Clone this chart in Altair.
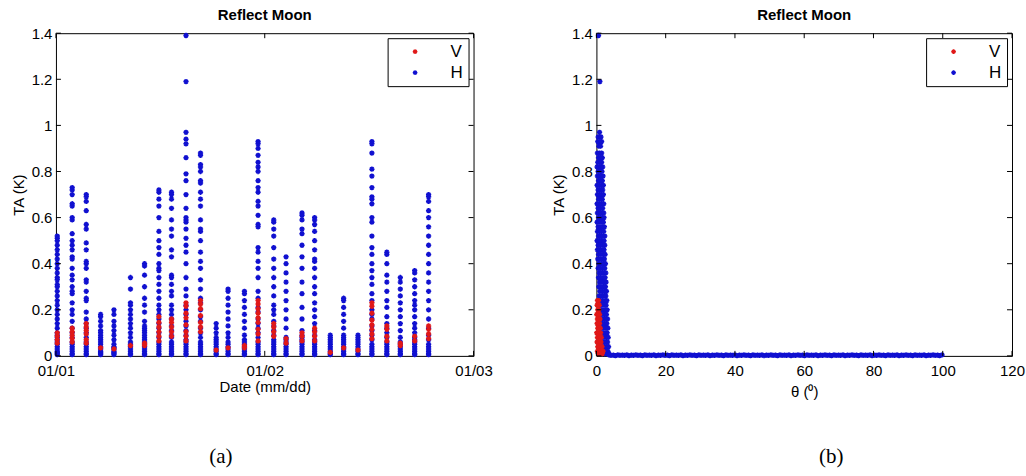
import altair as alt
import pandas as pd

# ---------------------------------------------------------------- data
# start time of each moon-reflection pass (one column of points per pass)
pass_times = [
    "2011-01-01T00:09", "2011-01-01T01:52", "2011-01-01T03:29", "2011-01-01T05:08",
    "2011-01-01T06:40", "2011-01-01T08:34", "2011-01-01T10:11", "2011-01-01T11:50",
    "2011-01-01T13:17", "2011-01-01T14:57", "2011-01-01T16:37", "2011-01-01T18:25",
    "2011-01-01T19:47", "2011-01-01T21:40", "2011-01-01T23:14", "2011-01-02T01:02",
    "2011-01-02T02:27", "2011-01-02T04:17", "2011-01-02T05:44", "2011-01-02T07:32",
    "2011-01-02T09:04", "2011-01-02T10:43", "2011-01-02T12:19", "2011-01-02T14:02",
    "2011-01-02T15:35", "2011-01-02T17:14", "2011-01-02T18:50",
]

# antenna temperature (K), H polarisation, per pass
ta_h = [
    [0.52, 0.51, 0.50, 0.48, 0.46, 0.44, 0.42, 0.40, 0.38, 0.36, 0.34, 0.33, 0.31, 0.30, 0.28,
     0.26, 0.24, 0.22, 0.20, 0.18, 0.16, 0.14, 0.12, 0.10, 0.09, 0.08, 0.07, 0.06, 0.05, 0.04,
     0.03, 0.02, 0.015, 0.01, 0.005],
    [0.73, 0.72, 0.70, 0.66, 0.65, 0.60, 0.59, 0.53, 0.50, 0.48, 0.46, 0.43, 0.42, 0.38, 0.35,
     0.33, 0.30, 0.28, 0.27, 0.23, 0.20, 0.18, 0.15, 0.12, 0.10, 0.08, 0.06, 0.05, 0.04, 0.03,
     0.02, 0.01, 0.005],
    [0.70, 0.69, 0.67, 0.63, 0.57, 0.55, 0.49, 0.46, 0.41, 0.40, 0.38, 0.33, 0.32, 0.28, 0.25,
     0.24, 0.19, 0.16, 0.14, 0.12, 0.10, 0.08, 0.06, 0.05, 0.04, 0.03, 0.02, 0.01, 0.005],
    [0.18, 0.17, 0.15, 0.13, 0.11, 0.10, 0.09, 0.08, 0.07, 0.06, 0.05, 0.04, 0.03, 0.02, 0.015,
     0.01, 0.005],
    [0.20, 0.18, 0.15, 0.13, 0.11, 0.09, 0.07, 0.05, 0.04, 0.035, 0.03, 0.02, 0.015, 0.01, 0.005],
    [0.34, 0.29, 0.23, 0.22, 0.20, 0.18, 0.16, 0.14, 0.12, 0.10, 0.08, 0.06, 0.05, 0.04, 0.03,
     0.02, 0.01, 0.005],
    [0.40, 0.39, 0.35, 0.30, 0.25, 0.22, 0.19, 0.15, 0.13, 0.12, 0.11, 0.10, 0.09, 0.08, 0.07,
     0.06, 0.05, 0.04, 0.03, 0.02, 0.01, 0.005],
    [0.72, 0.71, 0.68, 0.65, 0.60, 0.54, 0.50, 0.47, 0.44, 0.40, 0.38, 0.37, 0.34, 0.31, 0.28,
     0.25, 0.22, 0.20, 0.18, 0.16, 0.14, 0.12, 0.10, 0.08, 0.06, 0.05, 0.04, 0.03, 0.02, 0.01,
     0.005],
    [0.71, 0.70, 0.68, 0.64, 0.59, 0.55, 0.52, 0.46, 0.43, 0.35, 0.34, 0.31, 0.28, 0.26, 0.22,
     0.20, 0.18, 0.16, 0.13, 0.11, 0.09, 0.08, 0.06, 0.05, 0.04, 0.03, 0.02, 0.01, 0.005],
    [1.39, 1.19, 0.97, 0.94, 0.92, 0.86, 0.79, 0.76, 0.70, 0.64, 0.60, 0.59, 0.58, 0.55, 0.51,
     0.48, 0.45, 0.40, 0.34, 0.29, 0.26, 0.22, 0.20, 0.18, 0.15, 0.13, 0.11, 0.09, 0.07, 0.06,
     0.05, 0.04, 0.03, 0.02, 0.01, 0.005],
    [0.88, 0.87, 0.83, 0.82, 0.80, 0.76, 0.75, 0.71, 0.68, 0.65, 0.59, 0.55, 0.54, 0.50, 0.45,
     0.41, 0.38, 0.33, 0.29, 0.25, 0.23, 0.20, 0.17, 0.15, 0.12, 0.10, 0.08, 0.06, 0.05, 0.04,
     0.03, 0.02, 0.01, 0.005],
    [0.14, 0.12, 0.10, 0.08, 0.07, 0.06, 0.05, 0.04, 0.03, 0.02, 0.01, 0.005],
    [0.29, 0.28, 0.25, 0.22, 0.19, 0.16, 0.13, 0.10, 0.08, 0.06, 0.05, 0.04, 0.03, 0.02, 0.01,
     0.005],
    [0.28, 0.27, 0.24, 0.21, 0.18, 0.15, 0.12, 0.09, 0.07, 0.06, 0.05, 0.04, 0.03, 0.02, 0.01,
     0.005],
    [0.93, 0.92, 0.90, 0.87, 0.84, 0.82, 0.80, 0.76, 0.73, 0.71, 0.67, 0.65, 0.61, 0.57, 0.56,
     0.47, 0.45, 0.41, 0.38, 0.34, 0.28, 0.25, 0.21, 0.19, 0.16, 0.14, 0.12, 0.10, 0.08, 0.06,
     0.05, 0.04, 0.03, 0.02, 0.01, 0.005],
    [0.59, 0.58, 0.55, 0.52, 0.47, 0.42, 0.38, 0.34, 0.30, 0.26, 0.22, 0.20, 0.18, 0.15, 0.13,
     0.11, 0.09, 0.07, 0.06, 0.05, 0.04, 0.03, 0.02, 0.01, 0.005],
    [0.43, 0.40, 0.36, 0.32, 0.28, 0.24, 0.20, 0.16, 0.12, 0.08, 0.07, 0.06, 0.05, 0.04, 0.03,
     0.02, 0.01, 0.005],
    [0.62, 0.61, 0.59, 0.55, 0.53, 0.48, 0.43, 0.38, 0.32, 0.27, 0.21, 0.16, 0.11, 0.09, 0.08,
     0.07, 0.06, 0.05, 0.04, 0.03, 0.02, 0.01, 0.005],
    [0.60, 0.59, 0.57, 0.54, 0.50, 0.46, 0.42, 0.41, 0.38, 0.34, 0.30, 0.27, 0.23, 0.20, 0.17,
     0.14, 0.11, 0.09, 0.07, 0.06, 0.05, 0.04, 0.03, 0.02, 0.01, 0.005],
    [0.09, 0.08, 0.07, 0.06, 0.05, 0.04, 0.03, 0.02, 0.01, 0.005],
    [0.25, 0.24, 0.21, 0.18, 0.15, 0.12, 0.09, 0.08, 0.07, 0.06, 0.05, 0.04, 0.03, 0.02, 0.01,
     0.005],
    [0.09, 0.08, 0.07, 0.06, 0.05, 0.04, 0.03, 0.02, 0.01, 0.005],
    [0.93, 0.92, 0.88, 0.81, 0.78, 0.73, 0.69, 0.68, 0.66, 0.60, 0.58, 0.52, 0.47, 0.44, 0.40,
     0.37, 0.34, 0.31, 0.27, 0.24, 0.20, 0.18, 0.16, 0.13, 0.11, 0.09, 0.07, 0.05, 0.04, 0.03,
     0.02, 0.01, 0.005],
    [0.45, 0.44, 0.40, 0.35, 0.32, 0.28, 0.24, 0.21, 0.17, 0.14, 0.12, 0.10, 0.08, 0.06, 0.05,
     0.04, 0.03, 0.02, 0.01, 0.005],
    [0.34, 0.32, 0.29, 0.26, 0.23, 0.20, 0.17, 0.14, 0.11, 0.08, 0.06, 0.05, 0.04, 0.03, 0.02,
     0.01, 0.005],
    [0.37, 0.36, 0.33, 0.30, 0.27, 0.24, 0.22, 0.20, 0.17, 0.14, 0.12, 0.10, 0.08, 0.07, 0.06,
     0.05, 0.04, 0.03, 0.02, 0.01, 0.005],
    [0.70, 0.69, 0.67, 0.63, 0.60, 0.56, 0.52, 0.48, 0.44, 0.40, 0.36, 0.32, 0.28, 0.24, 0.20,
     0.16, 0.12, 0.09, 0.07, 0.05, 0.04, 0.03, 0.02, 0.01, 0.005],
]

# antenna temperature (K), V polarisation, per pass (lower values sit under the H points)
ta_v = [
    [0.10, 0.085, 0.07, 0.055],
    [0.12, 0.105, 0.09, 0.075, 0.06],
    [0.14, 0.125, 0.11, 0.095, 0.07, 0.055],
    [0.035],
    [0.03],
    [0.045],
    [0.055, 0.045],
    [0.17, 0.145, 0.125, 0.105, 0.085, 0.065],
    [0.16, 0.145, 0.125, 0.105, 0.085],
    [0.23, 0.215, 0.185, 0.165, 0.135, 0.105, 0.085, 0.065],
    [0.24, 0.225, 0.205, 0.175, 0.145, 0.125, 0.105],
    [0.025],
    [0.035],
    [0.045, 0.035],
    [0.24, 0.225, 0.205, 0.185, 0.165, 0.145, 0.115, 0.095, 0.065],
    [0.14, 0.125, 0.105, 0.085],
    [0.075, 0.055],
    [0.10, 0.085, 0.065],
    [0.12, 0.105, 0.085, 0.065],
    [0.015],
    [0.035],
    [0.025],
    [0.23, 0.215, 0.185, 0.155, 0.135, 0.115, 0.095, 0.075],
    [0.13, 0.115, 0.085, 0.065],
    [0.055, 0.045],
    [0.085, 0.065],
    [0.13, 0.115, 0.095, 0.075],
]

# TA against angular distance theta (deg), H polarisation: TA levels and the
# theta values found at each level
h_levels = [
    1.39, 1.19, 0.97, 0.95, 0.93, 0.91, 0.88, 0.86, 0.84, 0.82, 0.80, 0.78, 0.76, 0.74, 0.72,
    0.70, 0.68, 0.66, 0.64, 0.62, 0.60, 0.58, 0.56, 0.54, 0.52, 0.50, 0.48, 0.46, 0.44, 0.42,
    0.40, 0.38, 0.36, 0.34, 0.32, 0.30, 0.28, 0.26, 0.24, 0.22, 0.20, 0.18, 0.16, 0.14, 0.12,
    0.10, 0.08, 0.06, 0.04, 0.02, 0.01,
]
h_level_theta = [
    [0.6], [1.0], [0.9], [0.5, 1.3], [0.4, 1.0, 1.5], [0.7, 1.2], [0.3, 0.9, 1.5],
    [0.6, 1.2, 1.7], [0.4, 1.0, 1.5], [0.2, 0.8, 1.3, 1.8], [0.5, 1.1, 1.6],
    [0.3, 0.9, 1.4, 1.9], [0.6, 1.2, 1.7], [0.2, 0.8, 1.5, 2.0], [0.5, 1.1, 1.8],
    [0.3, 0.9, 1.4, 2.0], [0.6, 1.2, 1.7], [0.2, 0.8, 1.5, 2.1], [0.5, 1.1, 1.8],
    [0.3, 0.9, 1.4, 2.1], [0.6, 1.2, 1.7, 2.2], [0.2, 0.8, 1.5, 2.0], [0.5, 1.1, 1.8, 2.3],
    [0.3, 0.9, 1.4, 2.1], [0.6, 1.2, 1.7, 2.4], [0.2, 0.8, 1.5, 2.2], [0.5, 1.1, 1.9, 2.4],
    [0.3, 0.9, 1.6, 2.2], [0.6, 1.3, 2.0, 2.5], [0.4, 1.0, 1.7, 2.3], [0.7, 1.4, 2.1, 2.6],
    [0.5, 1.1, 1.8, 2.4], [0.8, 1.5, 2.2, 2.7], [0.6, 1.2, 1.9, 2.5], [0.9, 1.6, 2.3, 2.8],
    [0.7, 1.3, 2.0, 2.6], [1.0, 1.7, 2.4, 2.9], [0.8, 1.4, 2.1, 2.7], [1.1, 1.8, 2.5, 3.0],
    [0.9, 1.5, 2.2, 2.8], [1.2, 1.9, 2.6, 3.1], [1.0, 1.6, 2.3, 2.9], [1.3, 2.0, 2.7, 3.2],
    [1.1, 1.7, 2.4, 3.0], [1.4, 2.1, 2.8, 3.3], [1.2, 1.8, 2.5, 3.1], [1.5, 2.2, 2.9, 3.4],
    [1.3, 1.9, 2.6, 3.2], [1.6, 2.3, 3.0, 3.5], [1.4, 2.0, 2.7, 3.3], [1.7, 2.4, 3.1, 3.6],
]

# far from the reflection the H signal is essentially zero
theta_h_far = [
    3.6, 4.2, 4.9, 5.5, 6.2, 6.8, 7.5, 8.1, 8.8, 9.4, 10.1, 10.7, 11.4, 12.0, 12.7, 13.3, 14.0,
    14.6, 15.3, 15.9, 16.6, 17.2, 17.9, 18.5, 19.2, 19.8, 20.5, 21.1, 21.8, 22.4, 23.1, 23.7,
    24.4, 25.0, 25.7, 26.3, 27.0, 27.6, 28.3, 28.9, 29.6, 30.2, 30.9, 31.5, 32.2, 32.8, 33.5,
    34.1, 34.8, 35.4, 36.1, 36.7, 37.4, 38.0, 38.7, 39.3, 40.0, 40.6, 41.3, 41.9, 42.6, 43.2,
    43.9, 44.5, 45.2, 45.8, 46.5, 47.1, 47.8, 48.4, 49.1, 49.7, 50.4, 51.0, 51.7, 52.3, 53.0,
    53.6, 54.3, 54.9, 55.6, 56.2, 56.9, 57.5, 58.2, 58.8, 59.5, 60.1, 60.8, 61.4, 62.1, 62.7,
    63.4, 64.0, 64.7, 65.3, 66.0, 66.6, 67.3, 67.9, 68.6, 69.2, 69.9, 70.5, 71.2, 71.8, 72.5,
    73.1, 73.8, 74.4, 75.1, 75.7, 76.4, 77.0, 77.7, 78.3, 79.0, 79.6, 80.3, 80.9, 81.6, 82.2,
    82.9, 83.5, 84.2, 84.8, 85.5, 86.1, 86.8, 87.4, 88.1, 88.7, 89.4, 90.0, 90.7, 91.3, 92.0,
    92.6, 93.3, 93.9, 94.6, 95.2, 95.9, 96.5, 97.2, 97.8, 98.5, 99.1, 99.8,
]
ta_h_far = [
    0.004, 0.002, 0.003, 0.001, 0.004, 0.002, 0.003, 0.002, 0.004, 0.001, 0.003, 0.002, 0.004,
    0.002, 0.003, 0.001, 0.004, 0.002, 0.003, 0.002, 0.004, 0.001, 0.003, 0.002, 0.004, 0.002,
    0.003, 0.001, 0.004, 0.002, 0.003, 0.002, 0.004, 0.001, 0.003, 0.002, 0.004, 0.002, 0.003,
    0.001, 0.004, 0.002, 0.003, 0.002, 0.004, 0.001, 0.003, 0.002, 0.004, 0.002, 0.003, 0.001,
    0.004, 0.002, 0.003, 0.002, 0.004, 0.001, 0.003, 0.002, 0.004, 0.002, 0.003, 0.001, 0.004,
    0.002, 0.003, 0.002, 0.004, 0.001, 0.003, 0.002, 0.004, 0.002, 0.003, 0.001, 0.004, 0.002,
    0.003, 0.002, 0.004, 0.001, 0.003, 0.002, 0.004, 0.002, 0.003, 0.001, 0.004, 0.002, 0.003,
    0.002, 0.004, 0.001, 0.003, 0.002, 0.004, 0.002, 0.003, 0.001, 0.004, 0.002, 0.003, 0.002,
    0.004, 0.001, 0.003, 0.002, 0.004, 0.002, 0.003, 0.001, 0.004, 0.002, 0.003, 0.002, 0.004,
    0.001, 0.003, 0.002, 0.004, 0.002, 0.003, 0.001, 0.004, 0.002, 0.003, 0.002, 0.004, 0.001,
    0.003, 0.002, 0.004, 0.002, 0.003, 0.001, 0.004, 0.002, 0.003, 0.002, 0.004, 0.001, 0.003,
    0.002, 0.004, 0.002, 0.003, 0.001, 0.004,
]

# TA against theta, V polarisation
v_levels = [0.24, 0.22, 0.20, 0.18, 0.16, 0.14, 0.12, 0.10, 0.08, 0.06, 0.04, 0.02, 0.01]
v_level_theta = [
    [0.3, 0.6], [0.2, 0.5, 0.8], [0.4, 0.7], [0.1, 0.5, 0.9], [0.3, 0.7, 1.0], [0.2, 0.6, 0.9],
    [0.4, 0.8, 1.1], [0.1, 0.5, 0.9, 1.2], [0.3, 0.7, 1.1, 1.4], [0.2, 0.6, 1.0, 1.3],
    [0.4, 0.8, 1.2, 1.6], [0.3, 0.7, 1.1, 1.5, 1.9], [0.5, 0.9, 1.3, 1.7],
]

ta_ticks = [0, 0.2, 0.4, 0.6, 0.8, 1.0, 1.2, 1.4]
theta_ticks = [0, 20, 40, 60, 80, 100, 120]
date_ticks = ["2011-01-01T00:00", "2011-01-02T00:00", "2011-01-03T00:00"]

# ---------------------------------------------------------------- tables
rows = []
for t, vals in zip(pass_times, ta_h):
    rows += [{"time": t, "ta": v, "pol": "H"} for v in vals]
for t, vals in zip(pass_times, ta_v):
    rows += [{"time": t, "ta": v, "pol": "V"} for v in vals]
date_df = pd.DataFrame(rows)

theta_rows = []
for lvl, thetas in zip(h_levels, h_level_theta):
    theta_rows += [{"theta": a, "ta": lvl, "pol": "H"} for a in thetas]
theta_rows += [{"theta": a, "ta": b, "pol": "H"} for a, b in zip(theta_h_far, ta_h_far)]
for lvl, thetas in zip(v_levels, v_level_theta):
    theta_rows += [{"theta": a, "ta": lvl, "pol": "V"} for a in thetas]
theta_df = pd.DataFrame(theta_rows)

ytick_df = pd.DataFrame({"ta": ta_ticks})
xtick_theta_df = pd.DataFrame({"theta": theta_ticks})
xtick_date_df = pd.DataFrame({"time": date_ticks})

# ---------------------------------------------------------------- style
W1, W2, H = 418, 416, 323
RED, BLUE = "#e01818", "#1010d0"
FONT = "Liberation Sans"
TICK = 5
STAR = "M-1,0H1M0,-1V1M-0.7,-0.7L0.7,0.7M-0.7,0.7L0.7,-0.7"

y_scale = alt.Scale(domain=[0, 1.4], nice=False, zero=False)
date_scale = alt.Scale(
    domain=[alt.DateTime(year=2011, month=1, date=1),
            alt.DateTime(year=2011, month=1, date=3)],
    nice=False,
)
theta_scale = alt.Scale(domain=[0, 120], nice=False)
color_scale = alt.Scale(domain=["V", "H"], range=[RED, BLUE])


def legend():
    return alt.Legend(
        title=None, orient="top-right", offset=5, fillColor="white",
        strokeColor="black", padding=5, symbolOffset=14, labelOffset=27,
        rowPadding=3, labelFontSize=17, labelFont=FONT, symbolType=STAR,
        symbolSize=22, symbolStrokeWidth=1.3, symbolFillColor="transparent",
    )


def y_axis():
    return alt.Axis(
        title="TA (K)", values=ta_ticks, format=".1~f", ticks=False, domain=False,
        grid=False, labelPadding=4, titlePadding=5,
    )


def date_axis():
    return alt.Axis(
        title="Date (mm/dd)",
        values=[alt.DateTime(year=2011, month=1, date=d) for d in (1, 2, 3)],
        format="%m/%d", ticks=False, domain=False, grid=False,
        labelFlush=False, labelPadding=8, titlePadding=1,
    )


def theta_axis():
    return alt.Axis(
        title="θ (⁰)", values=theta_ticks, ticks=False, domain=False, grid=False,
        labelFlush=False, labelPadding=8, titlePadding=6,
    )


def inner_ticks(x_enc, x_ticks_df, width):
    # MATLAB-style ticks drawn inside the frame on all four sides
    y_enc = alt.Y("ta:Q", scale=y_scale, axis=y_axis())
    yl = alt.Chart(ytick_df).mark_rule(color="black", strokeWidth=1).encode(
        y=y_enc, x=alt.value(0), x2=alt.value(TICK))
    yr = alt.Chart(ytick_df).mark_rule(color="black", strokeWidth=1).encode(
        y=y_enc, x=alt.value(width - TICK), x2=alt.value(width))
    xb = alt.Chart(x_ticks_df).mark_rule(color="black", strokeWidth=1).encode(
        x=x_enc, y=alt.value(H), y2=alt.value(H - TICK))
    xt = alt.Chart(x_ticks_df).mark_rule(color="black", strokeWidth=1).encode(
        x=x_enc, y=alt.value(0), y2=alt.value(TICK))
    return [yl, yr, xb, xt]


def caption(text, xpos):
    return alt.Chart(pd.DataFrame({"t": [text]})).mark_text(
        font="Liberation Serif", fontSize=21, color="black", baseline="middle", align="center"
    ).encode(text="t:N", x=alt.value(xpos), y=alt.value(H + 101))


point_kw = dict(shape=STAR, filled=False, size=28, strokeWidth=1.5, opacity=1)

# ---------------------------------------------------------------- (a) TA vs date
x_date = alt.X("time:T", scale=date_scale, axis=date_axis())
pts_a = alt.Chart(date_df).mark_point(**point_kw).encode(
    x=x_date,
    y=alt.Y("ta:Q", scale=y_scale, axis=y_axis()),
    color=alt.Color("pol:N", scale=color_scale, legend=legend()),
)
panel_a = alt.layer(
    pts_a, *inner_ticks(x_date, xtick_date_df, W1), caption("(a)", 165)
).properties(width=W1, height=H, title="Reflect Moon")

# ---------------------------------------------------------------- (b) TA vs theta
x_theta = alt.X("theta:Q", scale=theta_scale, axis=theta_axis())
pts_b = alt.Chart(theta_df).mark_point(**point_kw).encode(
    x=x_theta,
    y=alt.Y("ta:Q", scale=y_scale, axis=y_axis()),
    color=alt.Color("pol:N", scale=color_scale, legend=legend()),
)
panel_b = alt.layer(
    pts_b, *inner_ticks(x_theta, xtick_theta_df, W2), caption("(b)", 235)
).properties(width=W2, height=H, title="Reflect Moon")

chart = (
    alt.hconcat(panel_a, panel_b, spacing=57)
    .resolve_scale(color="independent", x="independent", y="independent")
    .resolve_legend(color="independent")
    .properties(padding={"left": 10, "top": 7, "right": 0, "bottom": 0}, background="white")
    .configure_view(stroke="black", strokeWidth=1)
    .configure_axis(labelFont=FONT, labelFontSize=15, labelColor="black",
                    titleFont=FONT, titleFontSize=15, titleFontWeight="normal", titleColor="black")
    .configure_title(font=FONT, fontSize=15, fontWeight="bold", color="black", offset=3)
)

chart.save("out.html", embed_options={"renderer": "svg", "actions": False})
